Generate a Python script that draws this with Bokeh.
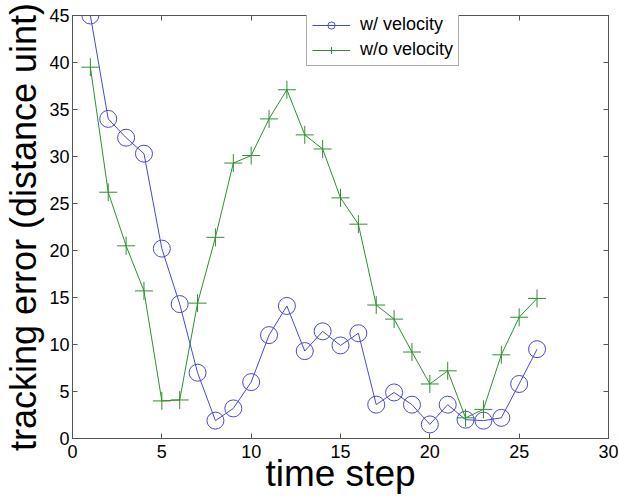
from bokeh.plotting import figure
from bokeh.models import Range1d, LinearAxis, Legend, LegendItem, FixedTicker
from bokeh.embed import file_html
from bokeh.resources import INLINE

steps = list(range(1, 27))
with_velocity = [45.0, 34.0, 32.0, 30.3, 20.2, 14.3, 7.0, 1.9, 3.2, 6.0, 11.0, 14.1, 9.3,
                 11.4, 9.9, 11.2, 3.6, 4.9, 3.6, 1.5, 3.6, 2.0, 1.9, 2.2, 5.8, 9.5]
without_velocity = [39.5, 26.2, 20.5, 15.7, 4.0, 4.1, 14.4, 21.4, 29.3, 30.1, 34.0, 37.1, 32.3,
                    30.8, 25.6, 22.8, 14.2, 12.7, 9.2, 5.8, 7.2, 2.2, 3.1, 8.9, 12.9, 14.9]
x_ticks = [0, 5, 10, 15, 20, 25, 30]
y_ticks = [0, 5, 10, 15, 20, 25, 30, 35, 40, 45]

BLUE = "#4848d4"
GREEN = "#2f8f2f"
AX = "#555555"
FONT = "Liberation Sans"

p = figure(width=618, height=496, output_backend="svg", toolbar_location=None,
           x_range=Range1d(0, 30), y_range=Range1d(0, 45),
           min_border_left=71, min_border_right=10, min_border_top=15, min_border_bottom=58)
p.xgrid.visible = False
p.ygrid.visible = False
p.outline_line_color = AX

l1 = p.line(steps, with_velocity, line_color=BLUE, line_width=1)
m1 = p.scatter(steps, with_velocity, marker="circle", size=17, fill_color=None,
               line_color=BLUE, line_width=1)
l2 = p.line(steps, without_velocity, line_color=GREEN, line_width=1)
m2 = p.scatter(steps, without_velocity, marker="cross", size=18, line_color=GREEN, line_width=1)

def style(ax, labels=True):
    ax.axis_line_color = AX
    ax.major_tick_line_color = AX
    ax.major_tick_in = 5
    ax.major_tick_out = 0
    ax.minor_tick_line_color = None
    if labels:
        ax.major_label_text_font = FONT
        ax.major_label_text_font_size = "18px"
        ax.major_label_text_color = "black"
    else:
        ax.major_label_text_color = None

p.xaxis.ticker = FixedTicker(ticks=x_ticks)
p.yaxis.ticker = FixedTicker(ticks=y_ticks)
style(p.xaxis[0])
style(p.yaxis[0])
p.xaxis.major_label_standoff = 6
p.yaxis.major_label_standoff = 3

p.xaxis.axis_label = "time step"
p.yaxis.axis_label = "tracking error (distance uint)"
for ax in (p.xaxis[0], p.yaxis[0]):
    ax.axis_label_text_font = FONT
    ax.axis_label_text_font_style = "normal"
    ax.axis_label_text_color = "black"
p.xaxis.axis_label_text_font_size = "37px"
p.yaxis.axis_label_text_font_size = "36px"
p.xaxis.axis_label_standoff = -8
p.yaxis.axis_label_standoff = 2

top = LinearAxis(ticker=FixedTicker(ticks=x_ticks))
right = LinearAxis(ticker=FixedTicker(ticks=y_ticks))
style(top, labels=False)
style(right, labels=False)
p.add_layout(top, "above")
p.add_layout(right, "right")

legend = Legend(items=[LegendItem(label="w/ velocity", renderers=[l1, m1]),
                       LegendItem(label="w/o velocity", renderers=[l2, m2])],
                location=(234, 372))
legend.label_text_font = FONT
legend.label_text_font_size = "18px"
legend.label_text_color = "black"
legend.border_line_color = AX
legend.border_line_width = 1
legend.background_fill_color = "white"
legend.background_fill_alpha = 1
legend.glyph_width = 38
legend.glyph_height = 18
legend.label_height = 18
legend.spacing = 4
legend.padding = 5
legend.margin = 0
legend.label_standoff = 10
p.add_layout(legend, "center")

open("out.html", "w").write(file_html(p, INLINE))
